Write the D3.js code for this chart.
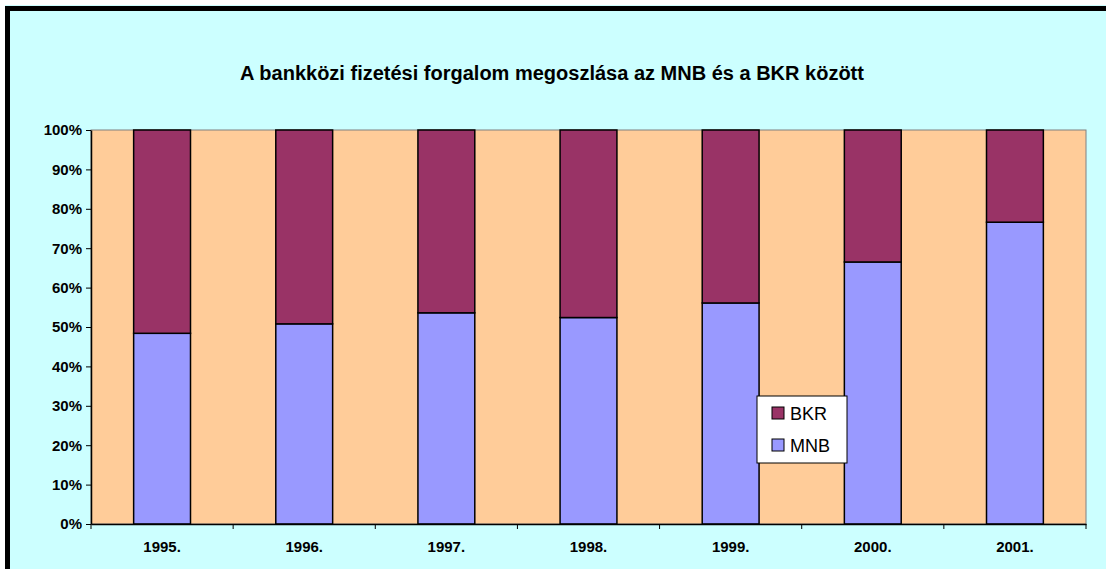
<!DOCTYPE html>
<html><head><meta charset="utf-8">
<script src="https://cdn.jsdelivr.net/npm/d3@7"></script>
<style>body{margin:0;background:#fff}svg{display:block}text{font-family:"Liberation Sans",Arial,sans-serif}</style>
</head><body>
<svg id="c" width="1106" height="569"></svg>
<script>
const categories = ["1995.","1996.","1997.","1998.","1999.","2000.","2001."];
const mnb = [48.4, 50.8, 53.6, 52.4, 56.1, 66.5, 76.6];
const bkr = [51.6, 49.2, 46.4, 47.6, 43.9, 33.5, 23.4];
const yTicks = [0,10,20,30,40,50,60,70,80,90,100];
const seriesNames = ["MNB","BKR"];
const colors = {MNB:"#9999FF", BKR:"#993366"};
const title = "A bankközi fizetési forgalom megoszlása az MNB és a BKR között";

const svg = d3.select("#c");
svg.append("rect").attr("x",5).attr("y",5).attr("width",1106).attr("height",569).attr("fill","#CCFFFF");
svg.append("rect").attr("x",5).attr("y",6).attr("width",1106).attr("height",5).attr("fill","#000");
svg.append("rect").attr("x",5).attr("y",6).attr("width",5).attr("height",569).attr("fill","#000");

const L=91, R=1086, T=130, B=524;
const x = d3.scaleBand().domain(categories).range([L,R]).paddingInner(0.6).paddingOuter(0.3);
const xb = d3.scaleBand().domain(categories).range([L,R]);
const y = d3.scaleLinear().domain([0,100]).range([B,T]);

svg.append("rect").attr("x",L).attr("y",T).attr("width",R-L).attr("height",B-T)
  .attr("fill","#FFCC99").attr("stroke","#808080").attr("stroke-width",1);

svg.append("text").attr("x",552).attr("y",80).attr("text-anchor","middle")
  .attr("font-size","20px").attr("font-weight","bold").text(title);

const data = categories.map((c,i)=>({cat:c, MNB:mnb[i], BKR:bkr[i]}));
const stack = d3.stack().keys(seriesNames)(data);
svg.append("g").selectAll("g").data(stack).join("g").attr("fill",d=>colors[d.key])
  .selectAll("rect").data(d=>d).join("rect")
  .attr("x",d=>x(d.data.cat)).attr("width",x.bandwidth())
  .attr("y",d=>y(d[1])).attr("height",d=>y(d[0])-y(d[1]))
  .attr("stroke","#000").attr("stroke-width",1.5);

const ya = svg.append("g").attr("transform",`translate(${L},0)`)
  .call(d3.axisLeft(y).tickValues(yTicks).tickFormat(d=>d+"%").tickSize(5).tickSizeOuter(0));
ya.select(".domain").attr("stroke","#000").attr("stroke-width",1.5);
ya.selectAll("text").attr("font-size","15px").attr("font-weight","bold").attr("fill","#000").attr("x",-9).attr("font-family","Liberation Sans, Arial, sans-serif");

const xa = svg.append("g").attr("transform",`translate(0,${B})`)
  .call(d3.axisBottom(xb).tickSize(0).tickSizeOuter(0));
xa.select(".domain").attr("stroke","#000").attr("stroke-width",1.5);
xa.selectAll("text").attr("font-size","15px").attr("font-weight","bold").attr("fill","#000").attr("dy",0).attr("y",28).attr("font-family","Liberation Sans, Arial, sans-serif");
const bounds = categories.map(c=>xb(c)).concat([R]);
svg.append("g").selectAll("line").data(bounds).join("line")
  .attr("x1",d=>d).attr("x2",d=>d).attr("y1",B).attr("y2",B+5).attr("stroke","#000");

const lg = svg.append("g").attr("transform","translate(757,396)");
lg.append("rect").attr("width",90).attr("height",67).attr("fill","#fff").attr("stroke","#000").attr("stroke-width",1);
["BKR","MNB"].forEach((k,i)=>{
  lg.append("rect").attr("x",15).attr("y",11+i*32).attr("width",12).attr("height",12)
    .attr("fill",colors[k]).attr("stroke","#000").attr("stroke-width",1);
  lg.append("text").attr("x",33).attr("y",24+i*32).attr("font-size","18px").text(k);
});
</script>
</body></html>
